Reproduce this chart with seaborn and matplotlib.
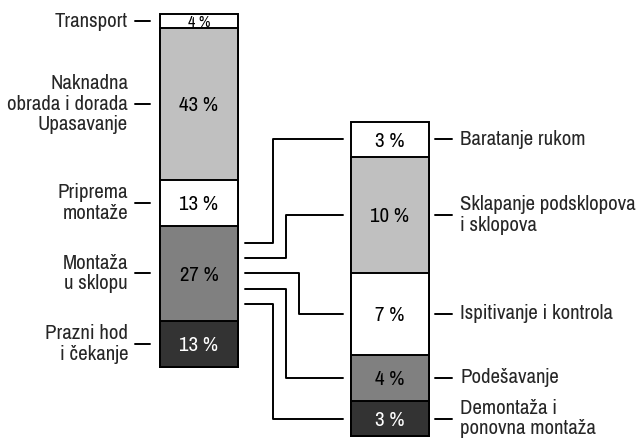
import matplotlib
matplotlib.use("Agg")
import matplotlib.pyplot as plt
import matplotlib.transforms as mtransforms
from matplotlib.lines import Line2D
from matplotlib import font_manager
import numpy as np
import pandas as pd
import seaborn as sns

# Structure of total working time (left bar, bottom to top)
main_labels = ["Prazni hod\ni čekanje", "Montaža\nu sklopu", "Priprema\nmontaže",
               "Naknadna\nobrada i dorada\nUpasavanje", "Transport"]
main_values = [13, 27, 13, 43, 4]

# Breakdown of "Montaža u sklopu" (right bar, bottom to top)
sub_labels = ["Demontaža i\nponovna montaža", "Podešavanje", "Ispitivanje i kontrola",
              "Sklapanje podsklopova\ni sklopova", "Baratanje rukom"]
sub_values = [3, 4, 7, 10, 3]

fills = ["#333333", "#808080", "#ffffff", "#c0c0c0", "#ffffff"]
text_colors = ["white", "black", "black", "black", "black"]

sns.set_theme(style="white")
names = {f.name for f in font_manager.fontManager.ttflist}
narrow = ["Liberation Sans Narrow", "Arial Narrow", "Arimo Narrow", "Archivo Narrow",
          "Roboto Condensed", "PT Sans Narrow", "Open Sans Condensed"]
family = next((n for n in narrow if n in names), None)
if family is None:
    family, FS = "Liberation Sans", 12.5
else:
    FS = 15
plt.rcParams["font.family"] = [family, "DejaVu Sans"]

W, H = 638, 438
fig = plt.figure(figsize=(W / 100, H / 100), dpi=100)
fig.patch.set_facecolor("white")


def px_axes(left, top, right, bottom):
    return fig.add_axes([left / W, (H - bottom) / H, (right - left) / W, (bottom - top) / H])


ax_main = px_axes(160, 14, 238, 367)
ax_sub = px_axes(351, 122, 429, 436)

CAP = 0.70 * 100 / 72  # digit height in px per point of font size


def stacked(ax, values):
    cum = np.cumsum(values)
    # draw tallest cumulative first so lower segments overlay it
    for i in reversed(range(len(values))):
        df = pd.DataFrame({"g": ["a"], "v": [cum[i]]})
        sns.barplot(data=df, x="g", y="v", ax=ax, color=fills[i], saturation=1,
                    width=1.0, edgecolor="black", linewidth=1.4)
    for p in ax.patches:
        p.set_clip_on(False)
    ax.set_xlim(-0.5, 0.5)
    ax.set_ylim(0, cum[-1])
    ax.set_axis_off()
    centers = cum - np.array(values) / 2
    px_per_unit = ax.transData.transform((0, 1))[1] - ax.transData.transform((0, 0))[1]
    for i, (c, v) in enumerate(zip(centers, values)):
        # shrink the value text when a segment is too thin to hold it
        fs = min(FS, (v * px_per_unit - 3) / CAP)
        tr = mtransforms.offset_copy(ax.transData, fig=fig, y=-fs * CAP / 2, units="dots")
        ax.text(0, c, f"{v} %", ha="center", va="baseline", fontsize=fs,
                color=text_colors[i], transform=tr)
    return cum, centers


main_cum, main_centers = stacked(ax_main, main_values)
sub_cum, sub_centers = stacked(ax_sub, sub_values)

ident = mtransforms.IdentityTransform()


def ypx(ax, y):
    return ax.transData.transform((0, y))[1]


# category labels with short leader ticks
for lab, c in zip(main_labels, main_centers):
    y = ypx(ax_main, c)
    fig.add_artist(Line2D([135, 150], [y, y], color="black", lw=1.4, transform=ident))
    fig.text(128, y, lab, transform=ident, ha="right", va="center", fontsize=FS,
             linespacing=1.1, multialignment="right")

for lab, c in zip(sub_labels, sub_centers):
    y = ypx(ax_sub, c)
    fig.add_artist(Line2D([435, 452], [y, y], color="black", lw=1.4, transform=ident))
    fig.text(460, y, lab, transform=ident, ha="left", va="center", fontsize=FS,
             linespacing=1.1)

# elbow connectors from the "Montaža u sklopu" segment to each sub-segment
seg_top = main_cum[1]
seg_h = main_values[1]
start_frac = [0.82, 0.66, 0.5, 0.34, 0.18]  # bottom-to-top order matching sub segments
elbow_x = [273, 286, 299, 286, 273]
for frac, ex, c in zip(start_frac, elbow_x, sub_centers):
    y0 = ypx(ax_main, seg_top - seg_h * frac)
    y1 = ypx(ax_sub, c)
    fig.add_artist(Line2D([245, ex, ex, 343], [y0, y0, y1, y1], color="black",
                          lw=1.4, transform=ident))

fig.savefig("out.png", dpi=100, facecolor="white")
